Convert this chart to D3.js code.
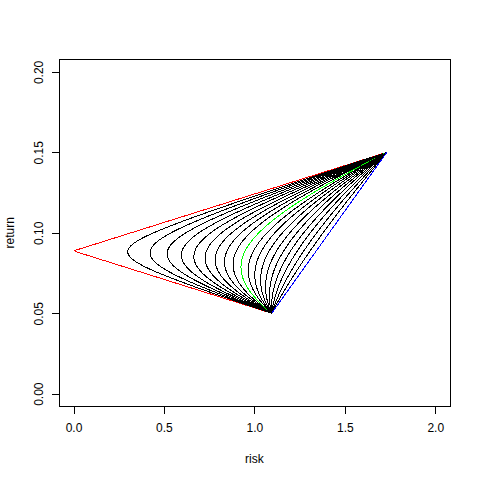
<!DOCTYPE html>
<html>
<head>
<meta charset="utf-8">
<script src="https://cdn.jsdelivr.net/npm/d3@7"></script>
<style>
  body { margin: 0; background: #fff; }
  text { font-family: "Liberation Sans", Arial, sans-serif; font-size: 12px; fill: #000; }
</style>
</head>
<body>
<div class="chart"></div>
<script>
// Two-asset portfolio frontiers for a range of correlations
var assetRisk = [1.0954, 1.732];     // sd of asset A and B
var assetReturn = [0.05, 0.15];      // expected return of A and B
var correlations = [-1, -0.9, -0.8, -0.7, -0.6, -0.5, -0.4, -0.3, -0.2, -0.1, 0,
                    0.1, 0.2, 0.3, 0.4, 0.5, 0.6, 0.7, 0.8, 0.9, 1];
var weightStep = 0.01;               // weight grid for asset A
var xTicks = [0, 0.5, 1, 1.5, 2];
var yTicks = [0, 0.05, 0.1, 0.15, 0.2];
var xLim = [0, 2];
var yLim = [0, 0.2];

var svgWidth = 480;
var svgHeight = 480;
var margin = {top: 59.04, right: 30.24, bottom: 73.44, left: 59.04};
var width = svgWidth - margin.left - margin.right;
var height = svgHeight - margin.top - margin.bottom;

var svg = d3.select(".chart")
  .append("svg")
  .attr("width", svgWidth)
  .attr("height", svgHeight);

var chart = svg.append("g")
  .attr("transform", "translate(" + margin.left + "," + margin.top + ")");

// R style 4% padding on the limits
var xPad = (xLim[1] - xLim[0]) * 0.04;
var yPad = (yLim[1] - yLim[0]) * 0.04;
var xScale = d3.scaleLinear().domain([xLim[0] - xPad, xLim[1] + xPad]).range([0, width]);
var yScale = d3.scaleLinear().domain([yLim[0] - yPad, yLim[1] + yPad]).range([height, 0]);

var weights = d3.range(0, 1 + weightStep / 2, weightStep);

function frontier(rho) {
  var sA = assetRisk[0], sB = assetRisk[1];
  return weights.map(function(w) {
    var v = w * w * sA * sA + (1 - w) * (1 - w) * sB * sB + 2 * w * (1 - w) * rho * sA * sB;
    return {risk: Math.sqrt(Math.max(v, 0)), ret: w * assetReturn[0] + (1 - w) * assetReturn[1]};
  });
}

function lineColor(rho) {
  if (rho === -1) return "#ff0000";
  if (rho === 0) return "#00ff00";
  if (rho === 1) return "#0000ff";
  return "#000000";
}

var line = d3.line()
  .x(function(d) { return xScale(d.risk); })
  .y(function(d) { return yScale(d.ret); });

chart.selectAll(".frontier")
  .data(correlations)
  .enter()
  .append("path")
  .attr("class", "frontier")
  .attr("d", function(rho) { return line(frontier(rho)); })
  .attr("fill", "none")
  .attr("stroke", lineColor)
  .attr("stroke-width", 1)
  .attr("shape-rendering", "crispEdges");

// plot box
chart.append("rect")
  .attr("x", 0.5)
  .attr("y", 0.5)
  .attr("width", Math.round(width) - 0.5)
  .attr("height", Math.round(height) - 1)
  .attr("fill", "none")
  .attr("stroke", "#000")
  .attr("shape-rendering", "crispEdges");

// x axis
var xAxis = chart.append("g")
  .attr("transform", "translate(0," + (Math.round(height) - 0.5) + ")")
  .call(d3.axisBottom(xScale).tickValues(xTicks).tickFormat(d3.format(".1f"))
    .tickSize(7.2).tickSizeOuter(0).tickPadding(9.8));
xAxis.select(".domain").remove();
xAxis.selectAll("line").attr("stroke", "#000").attr("shape-rendering", "crispEdges");
xAxis.selectAll("text").attr("font-family", null).attr("font-size", null);
xAxis.attr("font-family", null).attr("font-size", null);

// y axis, labels turned like R's default las=0
var yAxis = chart.append("g")
  .attr("transform", "translate(0.5,0)")
  .call(d3.axisLeft(yScale).tickValues(yTicks).tickFormat(d3.format(".2f"))
    .tickSize(7.2).tickSizeOuter(0));
yAxis.select(".domain").remove();
yAxis.selectAll("line").attr("stroke", "#000").attr("shape-rendering", "crispEdges");
yAxis.attr("font-family", null).attr("font-size", null);
yAxis.selectAll("text")
  .attr("x", null)
  .attr("dy", null)
  .attr("text-anchor", "middle")
  .attr("transform", "translate(-16.8,0) rotate(-90)");

// axis titles
svg.append("text")
  .attr("x", margin.left + width / 2)
  .attr("y", 462.5)
  .attr("text-anchor", "middle")
  .text("risk");

svg.append("text")
  .attr("transform", "translate(14," + (margin.top + height / 2) + ") rotate(-90)")
  .attr("text-anchor", "middle")
  .text("return");
</script>
</body>
</html>
